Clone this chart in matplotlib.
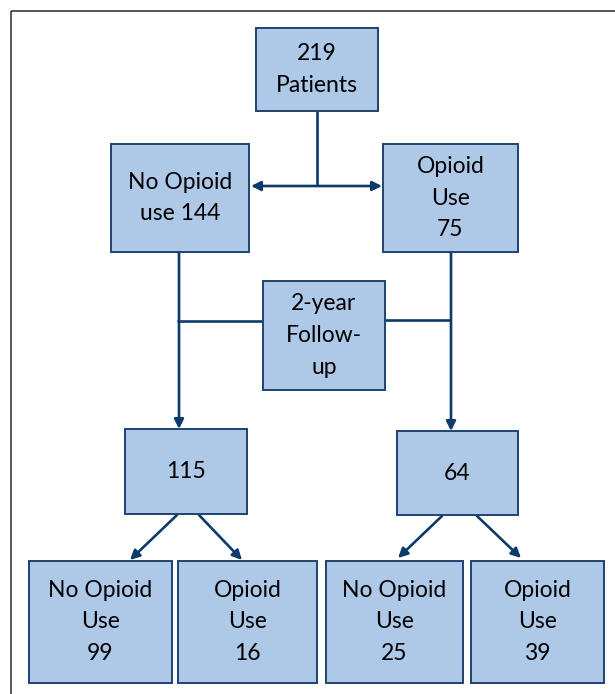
import matplotlib
matplotlib.use("Agg")
import matplotlib.pyplot as plt
from matplotlib.patches import Rectangle, FancyArrowPatch

# counts shown in the flowchart
total_patients = 219
baseline_groups = ["No Opioid\nuse", "Opioid\nUse"]
baseline_counts = [144, 75]
followup_counts = [115, 64]
outcome_labels = ["No Opioid\nUse", "Opioid\nUse", "No Opioid\nUse", "Opioid\nUse"]
outcome_counts = [99, 16, 25, 39]

FILL = "#aec8e8"
EDGE = "#1f4470"
LINE = "#0c3a6a"
FONT = "Lato"

fig = plt.figure(figsize=(6.15, 6.94), dpi=100)
ax = fig.add_axes([0, 0, 1, 1])
ax.set_xlim(0, 615)
ax.set_ylim(694, 0)
ax.axis("off")

# outer frame (runs off the right and bottom of the image)
ax.add_patch(Rectangle((11, 11), 700, 700, fill=False, edgecolor="#3a3a3a", lw=1.2))


def box(x0, y0, x1, y1, text):
    ax.add_patch(Rectangle((x0, y0), x1 - x0, y1 - y0, facecolor=FILL,
                           edgecolor=EDGE, lw=1.4, zorder=2))
    ax.text((x0 + x1) / 2, (y0 + y1) / 2, text, ha="center", va="center",
            fontsize=16.5, family=FONT, color="black", linespacing=1.62, zorder=3)


def line(xs, ys):
    ax.plot(xs, ys, color=LINE, lw=1.9, solid_capstyle="butt", zorder=1)


def arrow(p0, p1, style="-|>"):
    ax.add_patch(FancyArrowPatch(p0, p1, arrowstyle=style, mutation_scale=14,
                                 color=LINE, lw=1.9, shrinkA=0, shrinkB=0, zorder=1))


# boxes
box(256, 28, 378, 111, f"{total_patients}\nPatients")
box(111, 144, 249, 252, f"No Opioid\nuse {baseline_counts[0]}")
box(383, 144, 518, 252, f"Opioid\nUse\n{baseline_counts[1]}")
box(263, 281, 385, 390, "2-year\nFollow-\nup")
box(125, 429, 247, 514, f"{followup_counts[0]}")
box(397, 431, 518, 515, f"{followup_counts[1]}")

outcome_x = [(29, 172), (178, 317), (326, 463), (471, 604)]
for (x0, x1), lab, n in zip(outcome_x, outcome_labels, outcome_counts):
    box(x0, 561, x1, 683, f"{lab}\n{n}")

# connectors
line([317, 317], [111, 186])
arrow((251, 186), (382, 186), style="<|-|>")

line([177, 263], [321, 321])
line([385, 451], [320, 320])
arrow((179, 252), (179, 429))
arrow((451, 252), (451, 431))

arrow((177, 515), (130, 560))
arrow((199, 515), (242, 560))
arrow((442, 516), (398, 558))
arrow((477, 516), (521, 558))

fig.savefig("out.png", dpi=100)
